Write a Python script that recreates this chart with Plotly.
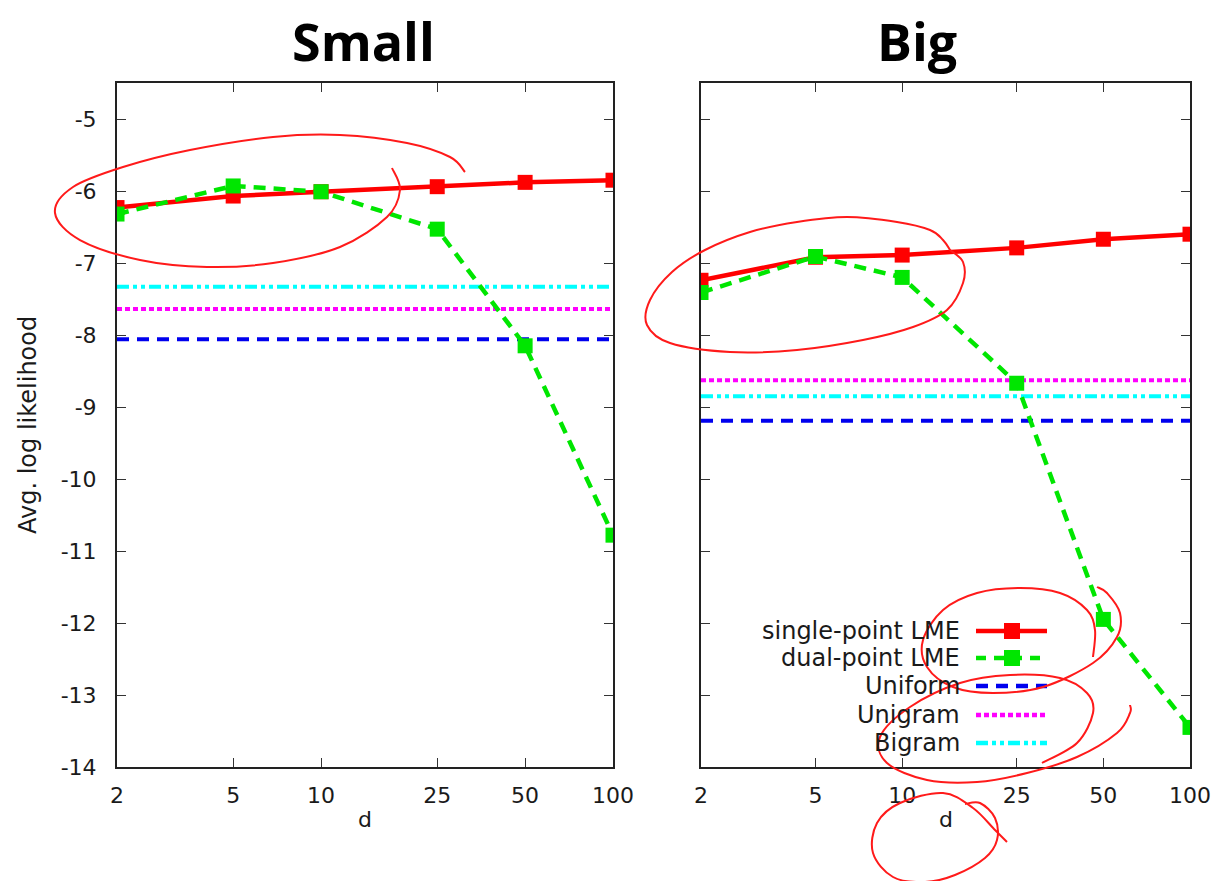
import plotly.graph_objects as go

W, H = 1221, 881

d_values = [2, 5, 10, 25, 50, 100]
tick_labels = ["2", "5", "10", "25", "50", "100"]
y_ticks = [-5, -6, -7, -8, -9, -10, -11, -12, -13, -14]
y_tick_labels = ["-5", "-6", "-7", "-8", "-9", "-10", "-11", "-12", "-13", "-14"]

small_single = [-6.23, -6.07, -6.01, -5.94, -5.88, -5.85]
small_dual = [-6.32, -5.93, -6.01, -6.53, -8.15, -10.78]
small_uniform = -8.06
small_unigram = -7.64
small_bigram = -7.33

big_single = [-7.24, -6.92, -6.89, -6.79, -6.67, -6.60]
big_dual = [-7.41, -6.91, -7.20, -8.67, -11.95, -13.45]
big_uniform = -9.19
big_unigram = -8.63
big_bigram = -8.85

series_names = ["single-point LME", "dual-point LME", "Uniform", "Unigram", "Bigram"]

RED = "#ff0000"
GREEN = "#00e600"
BLUE = "#0000ee"
MAG = "#ff00ff"
CYAN = "#00ffff"
TXT = "#1a1a1a"
FONT = "DejaVu Sans"


def px(x):
    return x / W


def py(y):
    return 1 - y / H


fig = go.Figure()


def add_panel(n, single, dual, uni, unig, big):
    xr = "x" if n == 1 else f"x{n}"
    yr = "y" if n == 1 else f"y{n}"
    flat_x = [d_values[0], d_values[-1]]
    fig.add_trace(go.Scatter(x=flat_x, y=[big, big], mode="lines", xaxis=xr, yaxis=yr,
                             line=dict(color=CYAN, width=4, dash="12px,4px,4px,4px,4px,4px"), showlegend=False))
    fig.add_trace(go.Scatter(x=flat_x, y=[unig, unig], mode="lines", xaxis=xr, yaxis=yr,
                             line=dict(color=MAG, width=4, dash="5px,3px"), showlegend=False))
    fig.add_trace(go.Scatter(x=flat_x, y=[uni, uni], mode="lines", xaxis=xr, yaxis=yr,
                             line=dict(color=BLUE, width=4, dash="12px,8px"), showlegend=False))
    fig.add_trace(go.Scatter(x=d_values, y=single, mode="lines+markers", xaxis=xr, yaxis=yr,
                             line=dict(color=RED, width=4.5),
                             marker=dict(symbol="square", size=15, color=RED), showlegend=False))
    fig.add_trace(go.Scatter(x=d_values, y=dual, mode="lines+markers", xaxis=xr, yaxis=yr,
                             line=dict(color=GREEN, width=4.5, dash="12px,8px"),
                             marker=dict(symbol="square", size=15, color=GREEN), showlegend=False))


add_panel(1, small_single, small_dual, small_uniform, small_unigram, small_bigram)
add_panel(2, big_single, big_dual, big_uniform, big_unigram, big_bigram)

tickfont = dict(family=FONT, size=22, color=TXT)
ydom = [py(767), py(83)]
common_x = dict(type="log", range=[0.30103, 2.0], tickvals=d_values, ticktext=tick_labels,
                ticks="inside", ticklen=9, tickwidth=1.2, tickcolor="#333", mirror="ticks",
                showline=True, linecolor="#222", linewidth=2, showgrid=False, zeroline=False,
                tickfont=tickfont, ticklabelstandoff=8, automargin=False)
common_y = dict(range=[-14, -4.5], tickvals=y_ticks, ticktext=y_tick_labels, ticks="inside",
                ticklen=9, tickwidth=1.2, tickcolor="#333", mirror="ticks", showline=True,
                linecolor="#222", linewidth=2, showgrid=False, zeroline=False, domain=ydom,
                automargin=False)

fig.update_layout(
    width=W, height=H,
    margin=dict(l=0, r=0, t=0, b=0, pad=0, autoexpand=False),
    paper_bgcolor="white", plot_bgcolor="white",
    xaxis=dict(domain=[px(117), px(613)], anchor="y", **common_x),
    xaxis2=dict(domain=[px(701), px(1190)], anchor="y2", **common_x),
    yaxis=dict(anchor="x", tickfont=tickfont, ticklabelstandoff=14, **common_y),
    yaxis2=dict(anchor="x2", showticklabels=False, **common_y),
    showlegend=False,
)

# Axis titles
fig.add_annotation(text="Avg. log likelihood", x=px(28), y=py(425), xref="paper", yref="paper",
                   textangle=-90, showarrow=False, xanchor="center", yanchor="middle",
                   font=dict(family=FONT, size=24, color=TXT))
for cx in (365, 946):
    fig.add_annotation(text="d", x=px(cx), y=py(819), xref="paper", yref="paper",
                       showarrow=False, xanchor="center", yanchor="middle",
                       font=dict(family=FONT, size=22, color=TXT))

# Panel titles
fig.add_annotation(text="<b>Small</b>", x=px(363), y=py(40), xref="paper", yref="paper",
                   xanchor="center", yanchor="middle",
                   showarrow=False, font=dict(family="Open Sans", size=52, color="black"))
fig.add_annotation(text="<b>Big</b>", x=px(917), y=py(40), xref="paper", yref="paper",
                   xanchor="center", yanchor="middle",
                   showarrow=False, font=dict(family="Open Sans", size=52, color="black"))

# Custom gnuplot-style legend in the Big panel
leg_y = [631, 658, 686, 715, 743]
leg_styles = [
    dict(color=RED, dash="solid", marker=True),
    dict(color=GREEN, dash="10px,8px", marker=True),
    dict(color=BLUE, dash="12px,8px", marker=False),
    dict(color=MAG, dash="5px,3px", marker=False),
    dict(color=CYAN, dash="12px,4px,4px,4px,4px,4px", marker=False),
]
for name, yy, st in zip(series_names, leg_y, leg_styles):
    fig.add_annotation(text=name, x=px(962), y=py(yy), xref="paper", yref="paper",
                       xanchor="right", yanchor="middle", showarrow=False,
                       font=dict(family=FONT, size=24, color=TXT))
    fig.add_shape(type="line", xref="paper", yref="paper", x0=px(976), x1=px(1047),
                  y0=py(yy), y1=py(yy), line=dict(color=st["color"], width=4.5, dash=st["dash"]))
    if st["marker"]:
        fig.add_shape(type="rect", xref="paper", yref="paper", x0=px(1004), x1=px(1020),
                      y0=py(yy + 8), y1=py(yy - 8), fillcolor=st["color"], line=dict(width=0))

# Hand-drawn red marks (freehand strokes, smoothed)
strokes = [
    [(392, 168), (400, 190), (387, 217), (340, 247), (273, 263), (207, 267), (140, 260), (80, 240),
     (55, 213), (73, 187), (123, 167), (190, 150), (273, 137), (340, 135), (407, 143), (450, 157),
     (465, 172)],
    [(950, 250), (963, 262), (963, 283), (947, 310), (913, 327), (863, 340), (797, 350), (730, 352),
     (670, 343), (647, 325), (650, 300), (672, 272), (705, 250), (750, 232), (797, 222), (847, 217),
     (897, 222), (930, 230), (943, 240), (950, 250)],
    [(1093, 657), (1095, 630), (1087, 610), (1060, 593), (1020, 588), (977, 593), (943, 610),
     (923, 640), (927, 667), (953, 687), (993, 693), (1043, 687), (1093, 663), (1117, 637),
     (1120, 613), (1107, 593), (1097, 587)],
    [(1042, 763), (1077, 743), (1093, 713), (1087, 693), (1060, 678), (1010, 675), (960, 683),
     (910, 707), (880, 737), (887, 763), (927, 780), (977, 782), (1027, 773), (1077, 757),
     (1117, 733), (1130, 713), (1130, 705)],
    [(965, 804), (980, 803), (995, 818), (997, 840), (985, 858), (955, 875), (925, 882), (893, 877),
     (873, 853), (877, 823), (900, 803), (943, 793), (973, 808), (995, 830), (1007, 842)],
]


def smooth_path(points):
    pts = [points[0]] + points + [points[-1]]
    p = f"M {px(pts[1][0]):.5f},{py(pts[1][1]):.5f}"
    for i in range(1, len(pts) - 2):
        p0, p1, p2, p3 = pts[i - 1], pts[i], pts[i + 1], pts[i + 2]
        c1 = (p1[0] + (p2[0] - p0[0]) / 6, p1[1] + (p2[1] - p0[1]) / 6)
        c2 = (p2[0] - (p3[0] - p1[0]) / 6, p2[1] - (p3[1] - p1[1]) / 6)
        p += (f" C {px(c1[0]):.5f},{py(c1[1]):.5f} {px(c2[0]):.5f},{py(c2[1]):.5f}"
              f" {px(p2[0]):.5f},{py(p2[1]):.5f}")
    return p


for s in strokes:
    fig.add_shape(type="path", xref="paper", yref="paper", path=smooth_path(s),
                  line=dict(color="#ff1a1a", width=2), layer="above")

fig.write_html("out.html")
